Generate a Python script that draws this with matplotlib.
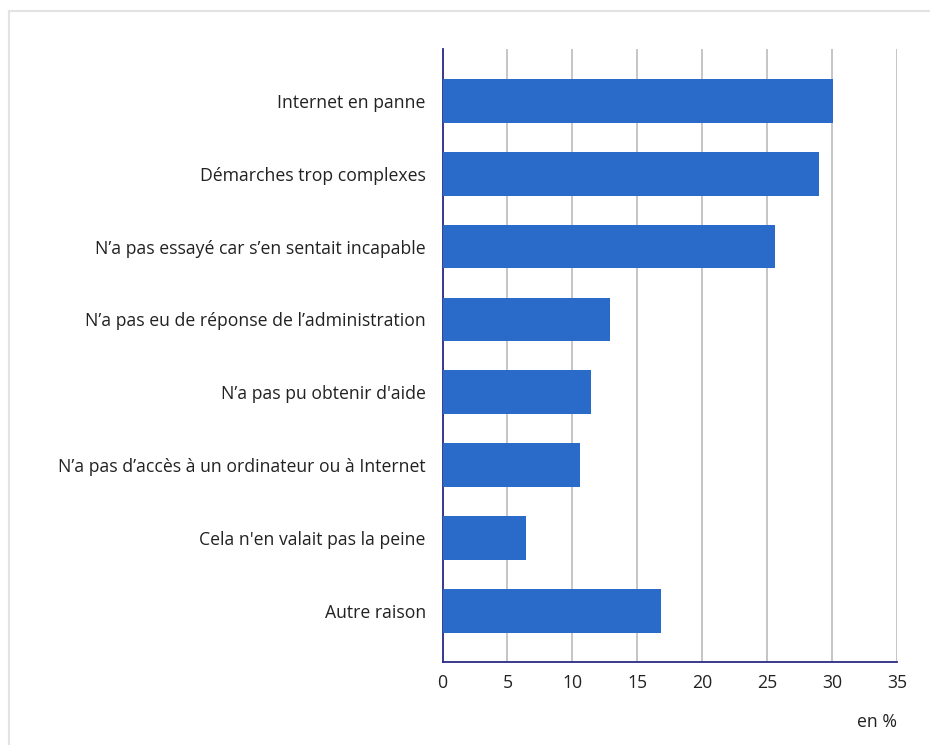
import matplotlib
matplotlib.use('Agg')
import matplotlib.pyplot as plt
import matplotlib.patches as mpatches

plt.rcParams['font.family'] = ['Open Sans', 'DejaVu Sans']

# Reasons, top to bottom, and their share in %
raisons = [
    "Internet en panne",
    "Démarches trop complexes",
    "N’a pas essayé car s’en sentait incapable",
    "N’a pas eu de réponse de l’administration",
    "N’a pas pu obtenir d'aide",
    "N’a pas d’accès à un ordinateur ou à Internet",
    "Cela n'en valait pas la peine",
    "Autre raison",
]
valeurs = [30.1, 29.0, 25.6, 12.9, 11.4, 10.6, 6.4, 16.8]
graduations = [0, 5, 10, 15, 20, 25, 30, 35]

W, H = 930, 745
fs = 12.7
fig = plt.figure(figsize=(W / 100, H / 100), dpi=100)
# axes placed in pixel terms: left 442.5, right 897, top 49, bottom 662
ax = fig.add_axes([442.5 / W, 1 - 662 / H, (897 - 442.5) / W, (662 - 49) / H])

# light grey frame around the whole chart
cadre = mpatches.Rectangle((8.5 / W, -0.05), 1.1, 1 - 10.5 / H + 0.05,
                           transform=fig.transFigure, fill=False,
                           edgecolor='#e3e3e3', linewidth=1.5)
fig.patches.append(cadre)

pos = list(range(len(raisons)))
ax.barh(pos, valeurs, height=0.6, color='#2a6bc9', zorder=3)

ax.set_xlim(0, 35)
ax.set_ylim(len(raisons) - 0.3, -0.71)
ax.set_xticks(graduations)
ax.set_xticklabels([str(g) for g in graduations], fontsize=fs, color='#222222')
ax.set_yticks(pos)
ax.set_yticklabels(raisons, fontsize=fs, color='#222222')
ax.tick_params(axis='y', length=0, pad=12)
ax.tick_params(axis='x', length=0, pad=9)

ax.grid(axis='x', color='#c0c0c0', linewidth=1.3, zorder=0)
for s in ['top', 'right']:
    ax.spines[s].set_visible(False)
ax.spines['left'].set_color('#2a2a8a')
ax.spines['bottom'].set_color('#2a2a8a')
ax.spines['left'].set_linewidth(1.3)
ax.spines['bottom'].set_linewidth(1.3)

fig.text(897 / W, 1 - 722 / H, "en %", ha='right', va='center',
         fontsize=fs, color='#222222')

plt.savefig('out.png', dpi=100)
